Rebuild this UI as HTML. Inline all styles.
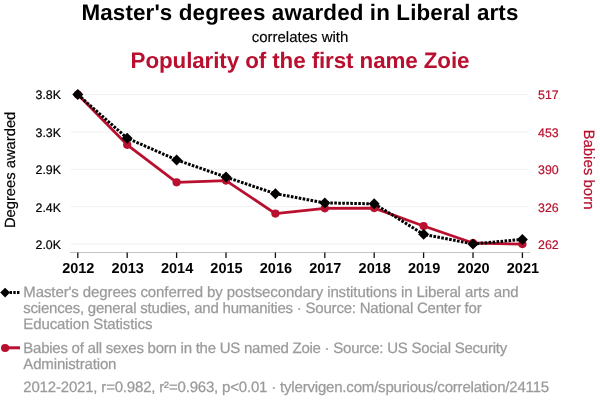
<!DOCTYPE html>
<html><head><meta charset="utf-8">
<style>
html,body{margin:0;padding:0;background:#fff;width:600px;height:408px;overflow:hidden;}
body{font-family:"Liberation Sans",sans-serif;position:relative;}
#wrap{position:absolute;left:0;top:0;width:600px;height:408px;will-change:transform;text-rendering:geometricPrecision;}
.t{position:absolute;white-space:nowrap;left:0;width:600px;text-align:center;}
#title{top:0.6px;font-size:22.4px;font-weight:bold;color:#000;line-height:24px;letter-spacing:0.12px;}
#sub{top:29px;font-size:15px;color:#000;line-height:17px;-webkit-text-stroke:0.15px #000;}
#title2{top:48.5px;font-size:22.4px;font-weight:bold;color:#b8102e;line-height:24px;letter-spacing:-0.1px;}
.leg{position:absolute;left:23.3px;font-size:15px;line-height:16px;color:#9a9a9a;white-space:nowrap;-webkit-text-stroke:0.25px #9a9a9a;}
</style></head><body><div id="wrap">
<div class="t" id="title">Master's degrees awarded in Liberal arts</div>
<div class="t" id="sub">correlates with</div>
<div class="t" id="title2">Popularity of the first name Zoie</div>

<svg width="600" height="408" style="position:absolute;left:0;top:0">
  <g stroke="#f0f0f0" stroke-width="1">
    <line x1="71" y1="94.6" x2="528" y2="94.6"/>
    <line x1="71" y1="131.95" x2="528" y2="131.95"/>
    <line x1="71" y1="169.3" x2="528" y2="169.3"/>
    <line x1="71" y1="206.7" x2="528" y2="206.7"/>
    <line x1="71" y1="244.05" x2="528" y2="244.05"/>
  </g>
  <line x1="70" y1="252.5" x2="530" y2="252.5" stroke="#c4c4c4" stroke-width="1"/>
  <g stroke="#111" stroke-width="1.3">
    <line x1="77.8" y1="252.5" x2="77.8" y2="258"/>
    <line x1="127.2" y1="252.5" x2="127.2" y2="258"/>
    <line x1="176.6" y1="252.5" x2="176.6" y2="258"/>
    <line x1="226" y1="252.5" x2="226" y2="258"/>
    <line x1="275.4" y1="252.5" x2="275.4" y2="258"/>
    <line x1="324.8" y1="252.5" x2="324.8" y2="258"/>
    <line x1="374.2" y1="252.5" x2="374.2" y2="258"/>
    <line x1="423.6" y1="252.5" x2="423.6" y2="258"/>
    <line x1="473" y1="252.5" x2="473" y2="258"/>
    <line x1="522.4" y1="252.5" x2="522.4" y2="258"/>
  </g>
  <g font-family="Liberation Sans" font-size="12.4" fill="#000" stroke="#000" stroke-width="0.2" text-anchor="end">
    <text x="61" y="99">3.8K</text>
    <text x="61" y="137">3.3K</text>
    <text x="61" y="174">2.9K</text>
    <text x="61" y="212">2.4K</text>
    <text x="61" y="249">2.0K</text>
  </g>
  <g font-family="Liberation Sans" font-size="12.4" fill="#b8102e" stroke="#b8102e" stroke-width="0.2" text-anchor="start">
    <text x="538" y="99">517</text>
    <text x="538" y="137">453</text>
    <text x="538" y="174">390</text>
    <text x="538" y="212">326</text>
    <text x="538" y="249">262</text>
  </g>
  <g font-family="Liberation Sans" font-size="14.5" font-weight="bold" fill="#000" text-anchor="middle">
    <text x="78.3" y="272.7">2012</text>
    <text x="127.7" y="272.7">2013</text>
    <text x="177.1" y="272.7">2014</text>
    <text x="226.5" y="272.7">2015</text>
    <text x="275.9" y="272.7">2016</text>
    <text x="325.3" y="272.7">2017</text>
    <text x="374.7" y="272.7">2018</text>
    <text x="424.1" y="272.7">2019</text>
    <text x="473.5" y="272.7">2020</text>
    <text x="522.9" y="272.7">2021</text>
  </g>
  <text transform="translate(15,169.9) rotate(-90)" font-family="Liberation Sans" font-size="14.75" fill="#000" stroke="#000" stroke-width="0.2" text-anchor="middle">Degrees awarded</text>
  <text transform="translate(584,169.45) rotate(90)" font-family="Liberation Sans" font-size="15" fill="#b8102e" stroke="#b8102e" stroke-width="0.2" text-anchor="middle">Babies born</text>

  <!-- red line -->
  <polyline fill="none" stroke="#b8102e" stroke-width="2.8" stroke-linejoin="round"
    points="77.8,94.6 127.2,144.85 176.6,182.35 226,180.6 275.4,213.6 324.8,208.3 374.2,208.1 423.6,226 473,243 522.4,244.1"/>
  <g fill="#b8102e">
    <circle cx="77.8" cy="94.6" r="4.1"/>
    <circle cx="127.2" cy="144.85" r="4.1"/>
    <circle cx="176.6" cy="182.35" r="4.1"/>
    <circle cx="226" cy="180.6" r="4.1"/>
    <circle cx="275.4" cy="213.6" r="4.1"/>
    <circle cx="324.8" cy="208.3" r="4.1"/>
    <circle cx="374.2" cy="208.1" r="4.1"/>
    <circle cx="423.6" cy="226" r="4.1"/>
    <circle cx="473" cy="243" r="4.1"/>
    <circle cx="522.4" cy="244.1" r="4.1"/>
  </g>
  <!-- black dotted line -->
  <polyline fill="none" stroke="#000" stroke-width="3" stroke-dasharray="2.6,1.4"
    points="77.8,94.6 127.2,138.2 176.6,159.9 226,177.1 275.4,193.7 324.8,202.9 374.2,203.8 423.6,234.3 473,244 522.4,239.4"/>
  <g fill="#000">
    <path d="M77.8,89.1 l5.5,5.5 l-5.5,5.5 l-5.5,-5.5z"/>
    <path d="M127.2,132.7 l5.5,5.5 l-5.5,5.5 l-5.5,-5.5z"/>
    <path d="M176.6,154.4 l5.5,5.5 l-5.5,5.5 l-5.5,-5.5z"/>
    <path d="M226,171.6 l5.5,5.5 l-5.5,5.5 l-5.5,-5.5z"/>
    <path d="M275.4,188.2 l5.5,5.5 l-5.5,5.5 l-5.5,-5.5z"/>
    <path d="M324.8,197.4 l5.5,5.5 l-5.5,5.5 l-5.5,-5.5z"/>
    <path d="M374.2,198.3 l5.5,5.5 l-5.5,5.5 l-5.5,-5.5z"/>
    <path d="M423.6,228.8 l5.5,5.5 l-5.5,5.5 l-5.5,-5.5z"/>
    <path d="M473,238.5 l5.5,5.5 l-5.5,5.5 l-5.5,-5.5z"/>
    <path d="M522.4,233.9 l5.5,5.5 l-5.5,5.5 l-5.5,-5.5z"/>
  </g>

  <!-- legend icons -->
  <line x1="9.6" y1="292.5" x2="20" y2="292.5" stroke="#000" stroke-width="2.9" stroke-dasharray="2.4,1.3"/>
  <path d="M5.1,287.7 l4.9,4.9 l-4.9,4.9 l-4.9,-4.9z" fill="#000"/>
  <line x1="5" y1="347.8" x2="20" y2="347.8" stroke="#b8102e" stroke-width="3"/>
  <circle cx="5.1" cy="348" r="4.1" fill="#b8102e"/>
</svg>

<div class="leg" id="l1" style="top:284.6px;letter-spacing:-0.095px">Master's degrees conferred by postsecondary institutions in Liberal arts and</div>
<div class="leg" id="l2" style="top:300.6px;letter-spacing:-0.217px">sciences, general studies, and humanities · Source: National Center for</div>
<div class="leg" id="l3" style="top:316.6px;letter-spacing:-0.095px">Education Statistics</div>
<div class="leg" id="l4" style="top:340.7px;letter-spacing:-0.247px">Babies of all sexes born in the US named Zoie · Source: US Social Security</div>
<div class="leg" id="l5" style="top:356.5px;letter-spacing:-0.146px">Administration</div>
<div class="leg" id="l6" style="top:379.7px;letter-spacing:-0.185px">2012-2021, r=0.982, r²=0.963, p&lt;0.01 · tylervigen.com/spurious/correlation/24115</div>
</div></body></html>
